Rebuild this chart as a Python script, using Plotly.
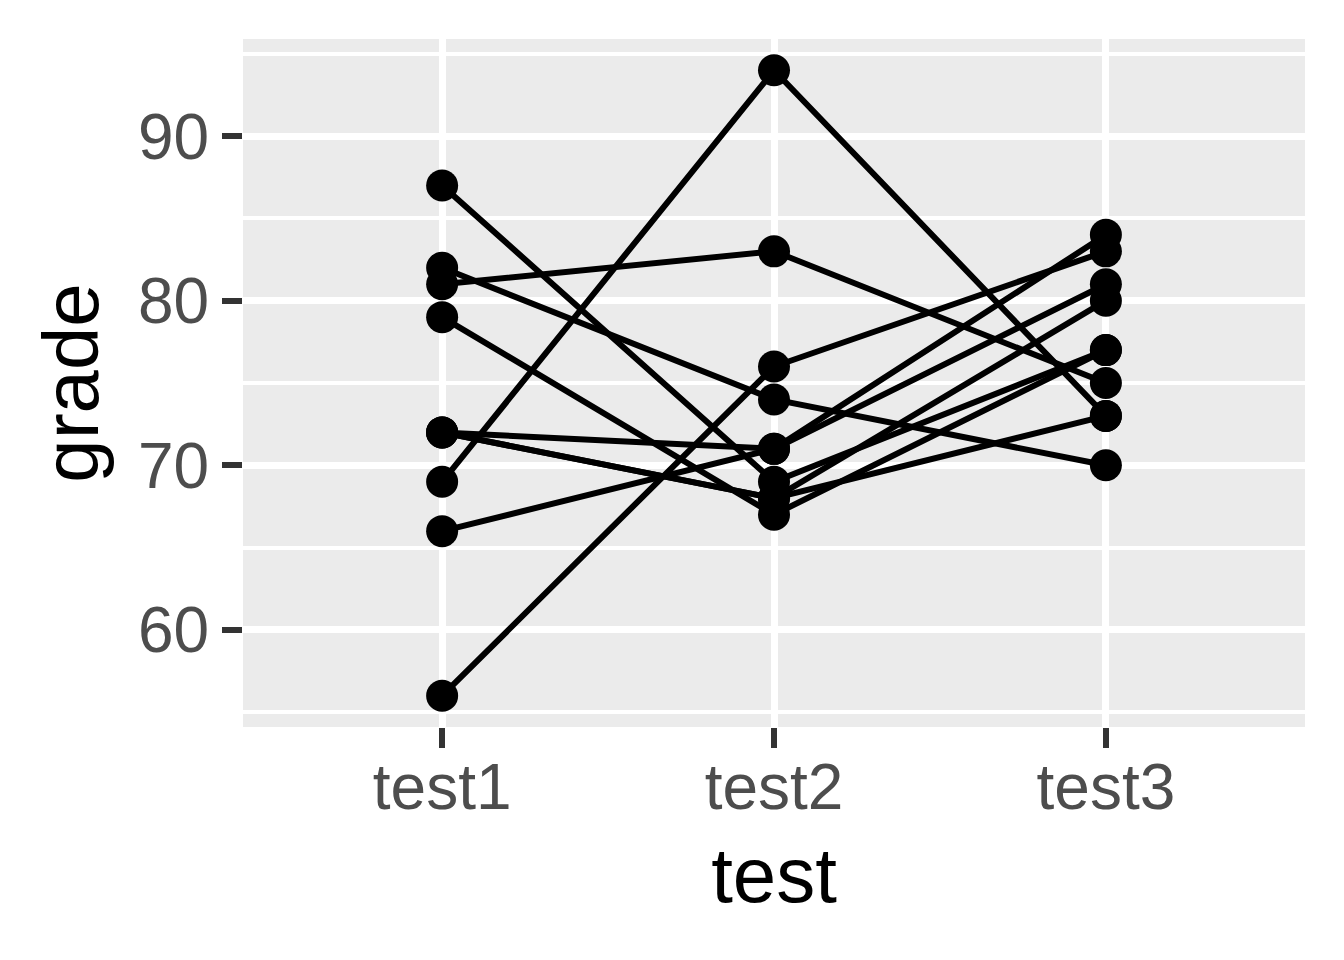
import plotly.graph_objects as go

tests = ["test1", "test2", "test3"]

# grades per student (one value per test)
test1 = [87, 82, 81, 79, 72, 72, 72, 69, 66, 56]
test2 = [69, 74, 83, 67, 71, 68, 68, 94, 71, 76]
test3 = [77, 70, 75, 77, 84, 80, 73, 73, 81, 83]

font = "Liberation Sans, Arial, sans-serif"

fig = go.Figure()
for g1, g2, g3 in zip(test1, test2, test3):
    fig.add_trace(go.Scatter(
        x=tests,
        y=[g1, g2, g3],
        mode="lines+markers",
        line=dict(color="black", width=6),
        marker=dict(color="black", size=32),
        showlegend=False,
        hoverinfo="x+y",
    ))

fig.update_layout(
    width=1344,
    height=960,
    paper_bgcolor="white",
    plot_bgcolor="#EBEBEB",
    margin=dict(l=235, r=47, t=31, b=241),
    font=dict(family=font),
)

fig.update_xaxes(
    type="category",
    categoryorder="array",
    categoryarray=tests,
    range=[-0.6, 2.6],
    showgrid=True,
    gridcolor="white",
    gridwidth=7,
    zeroline=False,
    showline=False,
    ticks="outside",
    ticklen=20,
    tickwidth=6,
    tickcolor="#333333",
    ticklabelstandoff=-16,
    tickfont=dict(size=64, color="#4D4D4D", family=font),
    title=dict(text="test", font=dict(size=78, color="black", family=font), standoff=25),
)

fig.update_yaxes(
    range=[54.1, 95.9],
    tick0=0,
    dtick=10,
    showgrid=True,
    gridcolor="white",
    gridwidth=7,
    minor=dict(dtick=5, tick0=0, showgrid=True, gridcolor="white", gridwidth=3.5, ticks=""),
    zeroline=False,
    showline=False,
    ticks="outside",
    ticklen=20,
    tickwidth=6,
    tickcolor="#333333",
    tickfont=dict(size=64, color="#4D4D4D", family=font),
    title=dict(text="grade", font=dict(size=78, color="black", family=font), standoff=13),
)

fig.write_html("out.html")
